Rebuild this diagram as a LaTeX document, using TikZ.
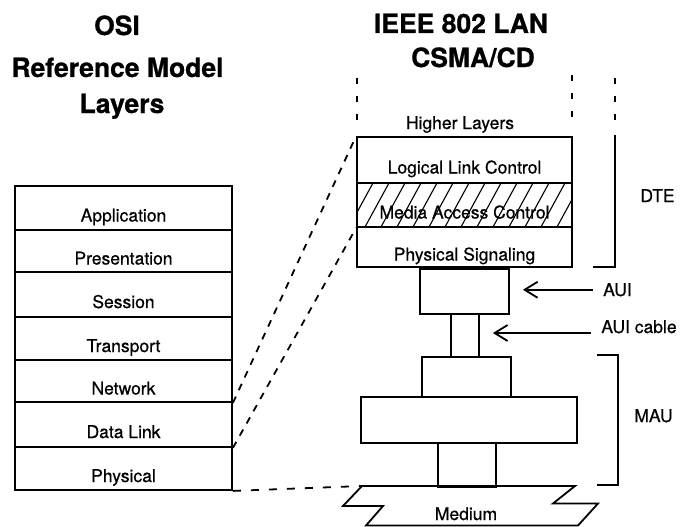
\documentclass[tikz,border=0pt]{standalone}
\usepackage{fontspec}
\setmainfont{TeX Gyre Heros}
\usetikzlibrary{arrows.meta}
\newfontfamily\heros[FakeBold=0.6]{TeX Gyre Heros}
\newfontfamily\herosbold[FakeBold=0.8]{TeX Gyre Heros Bold}
\newcommand{\titlefont}{\herosbold\fontsize{26.5}{29}\selectfont}
\newcommand{\bodyfont}{\heros\fontsize{17.5}{20}\selectfont}

\tikzset{
  stroke/.style={line width=1.8pt},
  layer/.style={stroke, draw, rectangle, inner sep=0pt,
    text height=27pt, text depth=0pt, font=\bodyfont},
  plainbox/.style={stroke, draw, rectangle, inner sep=0pt},
  heading/.style={anchor=base, inner sep=0pt, font=\titlefont},
  tag/.style={anchor=base, inner sep=0pt, font=\bodyfont},
  linkdash/.style={stroke, dash pattern=on 7pt off 7pt},
  flatdash/.style={stroke, dash pattern=on 8pt off 10pt},
  vdash/.style={stroke, dash pattern=on 6pt off 12pt},
  pointer/.style={stroke, -{Straight Barb[length=13pt,width=16pt]}}
}

\begin{document}
\begin{tikzpicture}[x=1pt,y=-1pt]
\useasboundingbox (0,0) rectangle (696,527);

% ---------- headings ----------
\node[heading] (h1) at (117,35)  {OSI};
\node[heading] (h2) at (117.5,77) {Reference Model};
\node[heading] (h3) at (122,113) {Layers};
\node[heading] (h4) at (461,33)  {IEEE 802 LAN};
\node[heading] (h5) at (473,67)  {CSMA/CD};

% ---------- OSI stack ----------
\node[layer, minimum width=217pt, minimum height=44pt] (app)   at (123.5,208)   {Application};
\node[layer, minimum width=217pt, minimum height=42pt] (pres)  at (123.5,251)   {Presentation};
\node[layer, minimum width=217pt, minimum height=45pt] (sess)  at (123.5,294.5) {Session};
\node[layer, minimum width=217pt, minimum height=43pt] (trans) at (123.5,338.5) {Transport};
\node[layer, minimum width=217pt, minimum height=42pt] (net)   at (123.5,381)   {Network};
\node[layer, minimum width=217pt, minimum height=45pt] (dl)    at (123.5,424.5) {Data Link};
\node[layer, minimum width=217pt, minimum height=43pt] (phys)  at (123.5,468.5) {Physical};

% ---------- IEEE 802.3 stack ----------
\node[tag] (hl) at (460,129) {Higher Layers};
\node[layer, minimum width=215pt, minimum height=46pt] (llc) at (464.5,160) {Logical Link Control};
\node[layer, minimum width=215pt, minimum height=44pt] (mac) at (464.5,205) {};
\node[layer, minimum width=215pt, minimum height=40pt] (ps)  at (464.5,247) {Physical Signaling};

% hatching of the MAC sublayer
\begin{scope}
  \clip (mac.south west) rectangle (mac.north east);
  \foreach \x in {333,349,...,589}
    \draw[line width=1.1pt] (\x,227) -- (\x+24,183);
\end{scope}
\node[layer, draw=none, minimum width=215pt, minimum height=44pt] (macl) at (mac.center) {Media Access Control};

% open ends above the stack
\draw[vdash] (357,78) -- (357,121);
\draw[vdash] (572,75) -- (572,121);

% attachment unit and transceiver
\node[plainbox, minimum width=89pt, minimum height=45pt]  (aui)   at (464.5,291.5) {};
\node[plainbox, minimum width=28pt, minimum height=43pt]  (cable) at (465,335.5)   {};
\node[plainbox, minimum width=89pt, minimum height=40pt]  (mtop)  at (466.5,377)   {};
\node[plainbox, minimum width=216pt, minimum height=46pt] (mmid)  at (469,420)     {};
\node[plainbox, minimum width=58pt, minimum height=44pt]  (mbot)  at (467,465)     {};

% medium with break marks
\coordinate (medtl) at (362,486);
\draw[stroke, line join=miter] (medtl) -- (575,486) -- (553,503.5) -- (598,503.5) -- (578,525.5)
  -- (366,525.5) -- (383,506) -- (343,506) -- cycle;
\node[tag] (med) at (466,520) {Medium};

% ---------- brackets and side labels ----------
\draw[stroke] (593,267) -- (615,267) -- (615,135);
\draw[vdash] (615,78) -- (615,121);
\node[tag] (dte) at (657.5,202) {DTE};

\draw[stroke] (597,355) -- (618,355) -- (618,485) -- (597,485);
\node[tag] (mau) at (653.5,422) {MAU};

\node[tag] (auil) at (617.5,296) {AUI};
\node[tag] (cabl) at (639,333) {AUI cable};
\draw[pointer, shorten <=10pt, shorten >=13pt] (auil.west) -- (auil.west -| aui.east);
\draw[pointer, shorten <=10pt, shorten >=13pt] (cabl.base west) -- (cabl.base west -| cable.east);

% ---------- correspondence between the two models ----------
\draw[linkdash] (net.south east) -- (llc.north west);
\draw[linkdash] (dl.south east) -- (mac.south west);
\draw[flatdash] (phys.south east) -- (medtl);

\end{tikzpicture}
\end{document}
